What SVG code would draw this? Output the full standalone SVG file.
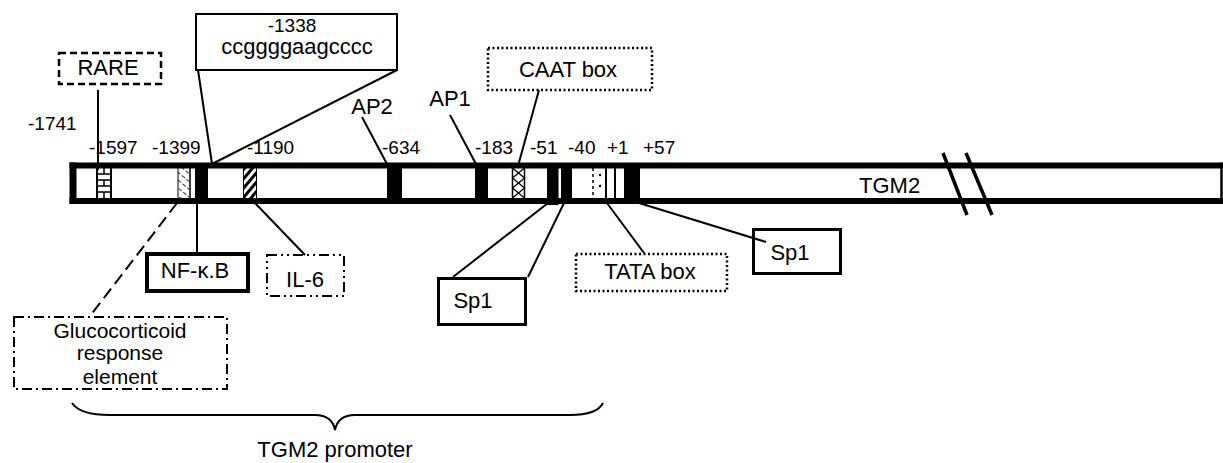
<svg xmlns="http://www.w3.org/2000/svg" width="1223" height="463" viewBox="0 0 1223 463">
<style>
text{font-family:"Liberation Sans",Arial,sans-serif;fill:#000}
.num{font-size:19px}
.lbl{font-size:22px}
.sm{font-size:21px}
.c{text-anchor:middle}
.ln{stroke:#000;stroke-width:2;fill:none}
.blk{fill:#000}
.box{fill:#fff;stroke:#000}
</style>
<defs>
<pattern id="hatchGRE" width="6" height="6" patternUnits="userSpaceOnUse" patternTransform="rotate(-50)">
<line x1="0" y1="0" x2="0" y2="4" stroke="#000" stroke-width="1.6"/>
</pattern>
<pattern id="hatchIL" width="6" height="6" patternUnits="userSpaceOnUse" patternTransform="rotate(40)">
<rect x="0" y="0" width="3" height="6" fill="#000"/>
</pattern>
</defs>

<g id="bar">
<rect x="73" y="165.5" width="1148" height="35.5" fill="#fff"/>
<line x1="69.5" y1="165.5" x2="1223" y2="165.5" stroke="#000" stroke-width="6"/>
<line x1="69.5" y1="201" x2="1223" y2="201" stroke="#000" stroke-width="6"/>
<line x1="73" y1="162.5" x2="73" y2="204" stroke="#000" stroke-width="7"/>
<line x1="1221.5" y1="162.5" x2="1221.5" y2="204" stroke="#000" stroke-width="2.5"/>
<line x1="943" y1="153" x2="967" y2="215" stroke="#000" stroke-width="3.5"/>
<line x1="966" y1="153" x2="992" y2="215" stroke="#000" stroke-width="3.5"/>
<text class="lbl" x="859" y="193">TGM2</text>
</g>

<g id="elements">
<g id="el-rare">
<line x1="97" y1="168" x2="97" y2="198" class="ln"/>
<line x1="111" y1="168" x2="111" y2="198" class="ln"/>
<g stroke="#000" stroke-width="1.5">
<line x1="96" y1="174" x2="112" y2="174"/>
<line x1="96" y1="180" x2="112" y2="180"/>
<line x1="96" y1="186" x2="112" y2="186"/>
<line x1="96" y1="192" x2="112" y2="192"/>
<line x1="104" y1="168" x2="104" y2="174"/>
<line x1="104" y1="180" x2="104" y2="186"/>
<line x1="104" y1="192" x2="104" y2="198"/>
</g>
</g>
<g id="el-gre">
<rect x="178" y="168" width="11" height="30" fill="url(#hatchGRE)"/>
<line x1="178" y1="168" x2="178" y2="198" stroke="#000" stroke-width="1"/>
<line x1="190" y1="168" x2="190" y2="198" stroke="#000" stroke-width="1.5"/>
</g>
<rect id="el-nfkb" class="blk" x="195" y="166" width="13" height="34"/>
<g id="el-il6">
<rect x="243" y="168" width="14" height="30" fill="url(#hatchIL)"/>
<line x1="243.5" y1="168" x2="243.5" y2="198" stroke="#000" stroke-width="1"/>
<line x1="256.5" y1="168" x2="256.5" y2="198" stroke="#000" stroke-width="1"/>
</g>
<rect id="el-ap2" class="blk" x="387" y="166" width="15" height="34"/>
<rect id="el-ap1" class="blk" x="475" y="166" width="13" height="34"/>
<g id="el-caat">
<line x1="512.5" y1="168" x2="512.5" y2="198" stroke="#000" stroke-width="1.5"/>
<line x1="524.5" y1="168" x2="524.5" y2="198" stroke="#000" stroke-width="1.5"/>
<polyline points="512.5,168 524.5,178 512.5,188 524.5,198" fill="none" stroke="#000" stroke-width="1.3"/>
<polyline points="524.5,168 512.5,178 524.5,188 512.5,198" fill="none" stroke="#000" stroke-width="1.3"/>
</g>
<g id="el-sp1a">
<rect class="blk" x="547" y="166" width="11.5" height="39"/>
<rect class="blk" x="561" y="166" width="11" height="37"/>
</g>
<g id="el-tata">
<line x1="593" y1="168" x2="593" y2="198" stroke="#000" stroke-width="1.5" stroke-dasharray="3 3"/>
<circle cx="600" cy="175" r="1.2" fill="#000"/>
<circle cx="600" cy="186" r="1.2" fill="#000"/>
<line x1="606" y1="168" x2="606" y2="198" stroke="#000" stroke-width="2"/>
<line x1="615" y1="168" x2="615" y2="198" stroke="#000" stroke-width="2"/>
</g>
<rect id="el-sp1b" class="blk" x="624" y="166" width="16" height="34"/>
</g>

<g id="positions">
<text class="num" x="28" y="130">-1741</text>
<text class="num" x="89" y="154">-1597</text>
<text class="num" x="152" y="154">-1399</text>
<text class="num" x="247" y="154">-1190</text>
<text class="num" x="382" y="154">-634</text>
<text class="num" x="475" y="154">-183</text>
<text class="num" x="530" y="154">-51</text>
<text class="num" x="568" y="154">-40</text>
<text class="num" x="607" y="154">+1</text>
<text class="num" x="643" y="154">+57</text>
</g>

<g id="node-rare">
<rect class="box" x="59" y="53" width="102" height="31" stroke-width="2.5" stroke-dasharray="7 4"/>
<text class="lbl c" x="108" y="75">RARE</text>
</g>
<g id="node-1338">
<rect class="box" x="196" y="14" width="201" height="56" stroke-width="2"/>
<text class="num c" x="292" y="32">-1338</text>
<text class="lbl c" x="297" y="54">ccggggaagcccc</text>
</g>
<text id="node-ap2" class="lbl c" x="372" y="114">AP2</text>
<text id="node-ap1" class="lbl c" x="450" y="106">AP1</text>
<g id="node-caat">
<rect class="box" x="488" y="48" width="164" height="42" stroke-width="2.5" stroke-dasharray="2 2.5"/>
<text class="lbl c" x="568" y="77">CAAT box</text>
</g>
<g id="node-nfkb">
<rect class="box" x="147" y="254" width="101" height="37" stroke-width="4"/>
<text class="lbl c" x="195" y="278">NF-κ.B</text>
</g>
<g id="node-il6">
<rect class="box" x="267" y="255" width="77" height="41" stroke-width="2" stroke-dasharray="10 4 2 4 2 4"/>
<text class="lbl c" x="305" y="287">IL-6</text>
</g>
<g id="node-gre">
<rect class="box" x="14" y="317" width="213" height="72" stroke-width="2" stroke-dasharray="10 4 2 4"/>
<text class="sm c" x="120" y="338">Glucocorticoid</text>
<text class="sm c" x="120" y="360">response</text>
<text class="sm c" x="120" y="384">element</text>
</g>
<g id="node-sp1-left">
<rect class="box" x="438.5" y="278.5" width="87" height="46" stroke-width="3"/>
<text class="lbl c" x="473" y="308">Sp1</text>
</g>
<g id="node-tata">
<rect class="box" x="576" y="254" width="151" height="37" stroke-width="2.5" stroke-dasharray="2 2.5"/>
<text class="lbl c" x="650" y="279">TATA box</text>
</g>
<g id="node-sp1-right">
<rect class="box" x="753.5" y="229.5" width="87" height="44" stroke-width="3"/>
<text class="lbl c" x="790" y="260">Sp1</text>
</g>

<g id="connectors">
<line x1="98" y1="90" x2="98" y2="170" class="ln"/>
<line x1="198" y1="70" x2="212" y2="164" class="ln"/>
<line x1="397" y1="70" x2="212" y2="164" class="ln"/>
<line x1="362" y1="117" x2="387" y2="164" class="ln"/>
<line x1="450" y1="115" x2="476" y2="164" class="ln"/>
<line x1="539" y1="90" x2="518" y2="166" class="ln"/>
<line x1="177" y1="203" x2="90" y2="316" class="ln" stroke-dasharray="12 6"/>
<line x1="197" y1="203" x2="197" y2="253" class="ln"/>
<line x1="255" y1="203" x2="305" y2="255" class="ln"/>
<line x1="548" y1="203" x2="453" y2="277" class="ln"/>
<line x1="564" y1="203" x2="528" y2="277" class="ln"/>
<line x1="607" y1="203" x2="644" y2="253" class="ln"/>
<line x1="639" y1="203" x2="766" y2="242" class="ln"/>
</g>

<g id="brace">
<path d="M72,403 Q80,415 110,415 L315,415 Q332,415 335,430 Q338,415 355,415 L570,415 Q597,415 603,403" fill="none" stroke="#000" stroke-width="2"/>
<text class="lbl c" x="335" y="457">TGM2 promoter</text>
</g>
</svg>
